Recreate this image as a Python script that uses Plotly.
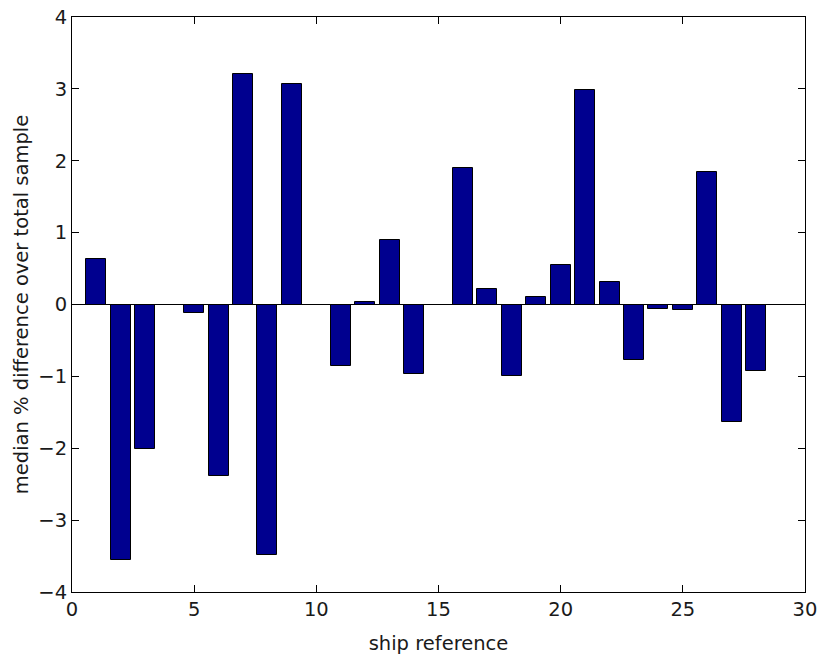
import plotly.graph_objects as go

# Ship index and median % difference relative to the total sample
ship_ref = list(range(1, 29))
median_diff = [
    0.64, -3.55, -2.01, 0.0, -0.12, -2.38, 3.21, -3.48, 3.07, 0.0,
    -0.85, 0.03, 0.90, -0.96, 0.0, 1.90, 0.22, -0.99, 0.10, 0.55,
    2.99, 0.31, -0.77, -0.06, -0.07, 1.85, -1.64, -0.93,
]
x_ticks = [0, 5, 10, 15, 20, 25, 30]
y_ticks = [-4, -3, -2, -1, 0, 1, 2, 3, 4]

fig = go.Figure(
    go.Bar(
        x=ship_ref,
        y=median_diff,
        width=0.82,
        marker=dict(color="#00008F", line=dict(color="#000000", width=1)),
    )
)

font = dict(family="DejaVu Sans, Verdana, sans-serif", size=19.5, color="#1a1a1a")

fig.update_layout(
    width=820,
    height=655,
    margin=dict(l=72, r=15, t=17, b=63),
    paper_bgcolor="white",
    plot_bgcolor="white",
    showlegend=False,
    font=font,
    bargap=0,
)

fig.update_xaxes(
    range=[0, 30],
    tickvals=x_ticks,
    ticks="inside",
    ticklen=7,
    tickcolor="#000000",
    showline=True,
    linecolor="#000000",
    linewidth=1,
    mirror="ticks",
    showgrid=False,
    zeroline=False,
    automargin=False,
    title=dict(text="ship reference", font=font, standoff=18),
)

fig.update_yaxes(
    range=[-4, 4],
    tickvals=y_ticks,
    ticks="inside",
    ticklen=7,
    tickcolor="#000000",
    showline=True,
    linecolor="#000000",
    linewidth=1,
    mirror="ticks",
    showgrid=False,
    zeroline=True,
    zerolinecolor="#000000",
    zerolinewidth=1,
    automargin=False,
    title=dict(text="median % difference over total sample", font=font, standoff=4),
)

fig.write_html("out.html")
